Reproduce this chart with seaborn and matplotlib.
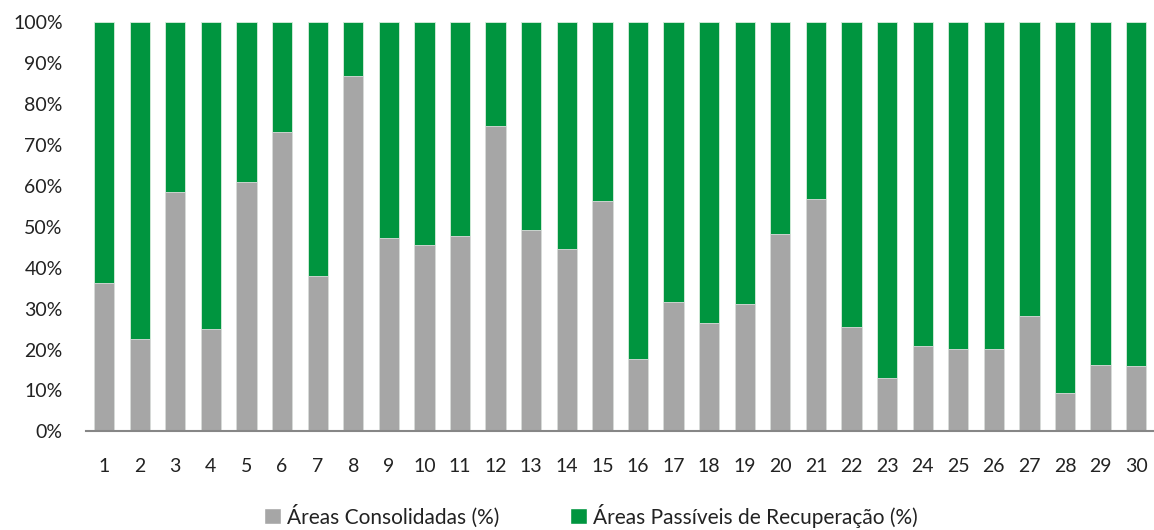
import matplotlib
matplotlib.use("Agg")
import matplotlib.pyplot as plt
import pandas as pd
import seaborn as sns
from matplotlib.patches import Patch
from matplotlib.ticker import PercentFormatter

# dados (%)
ids = list(range(1, 31))
consolidadas = [36.3, 22.6, 58.6, 25.1, 61.0, 73.1, 38.0, 86.8, 47.3, 45.6,
                47.7, 74.6, 49.3, 44.6, 56.4, 17.6, 31.6, 26.6, 31.2, 48.2,
                56.8, 25.6, 13.1, 20.9, 20.1, 20.2, 28.2, 9.4, 16.1, 15.9]
recuperacao = [100 - v for v in consolidadas]

label_cons = "Áreas Consolidadas (%)"
label_rec = "Áreas Passíveis de Recuperação (%)"
cor_cons = "#A6A6A6"
cor_rec = "#00953F"

df = pd.DataFrame({"id": [str(i) for i in ids], "cons": consolidadas, "rec": recuperacao})
df["total"] = df["cons"] + df["rec"]

sns.set_theme(style="white")
plt.rcParams["font.family"] = ["Lato", "DejaVu Sans"]

fig = plt.figure(figsize=(11.54, 5.30), dpi=100)
ax = fig.add_axes([0.0748, 0.1862, 0.9252, 0.7718])

sns.barplot(data=df, x="id", y="total", color=cor_rec, saturation=1, width=0.57,
            edgecolor="#d8eedd", linewidth=0.6, ax=ax)
sns.barplot(data=df, x="id", y="cons", color=cor_cons, saturation=1, width=0.57,
            edgecolor="#dddddd", linewidth=0.6, ax=ax)

ax.set_xlim(-0.5, len(ids) - 0.5)
ax.set_ylim(0, 100)
ax.set_yticks(range(0, 101, 10))
ax.yaxis.set_major_formatter(PercentFormatter(decimals=0))
ax.set_xlabel("")
ax.set_ylabel("")
ax.tick_params(axis="y", length=0, pad=17, labelsize=14, labelcolor="#222222")
ax.tick_params(axis="x", length=0, pad=19, labelsize=14, labelcolor="#222222")

for s in ["top", "right", "left"]:
    ax.spines[s].set_visible(False)
ax.spines["bottom"].set_color("#868686")
ax.spines["bottom"].set_linewidth(1.5)

handles = [Patch(facecolor=cor_cons, label=label_cons),
           Patch(facecolor=cor_rec, label=label_rec)]
fig.legend(handles=handles, loc="center", bbox_to_anchor=(0.512, 0.027), ncol=2,
           frameon=False, fontsize=15, handlelength=0.8, handleheight=0.8,
           handletextpad=0.3, columnspacing=3.4, labelcolor="#222222")

fig.savefig("out.png", dpi=100)
